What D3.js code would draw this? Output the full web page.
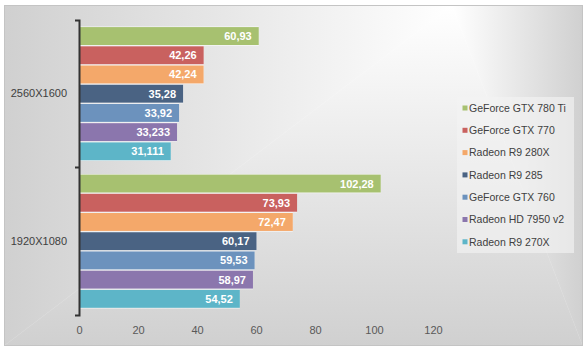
<!DOCTYPE html>
<html>
<head>
<meta charset="utf-8">
<script src="https://cdn.jsdelivr.net/npm/d3@7/dist/d3.min.js"></script>
<style>
  html, body { margin: 0; padding: 0; background: #ffffff; }
  svg { display: block; font-family: "Liberation Sans", Arial, sans-serif; }
</style>
</head>
<body>
<svg id="chart" width="587" height="355"></svg>
<script>
// ---- data ----
const categories = ["2560X1600", "1920X1080"];
const seriesNames = ["GeForce GTX 780 Ti", "GeForce GTX 770", "Radeon R9 280X", "Radeon R9 285",
                     "GeForce GTX 760", "Radeon HD 7950 v2", "Radeon R9 270X"];
const colors = ["#a7c170", "#c9615f", "#f4a86a", "#4a6383", "#6c92bd", "#8b76ad", "#5db5c8"];
const values2560 = [60.93, 42.26, 42.24, 35.28, 33.92, 33.233, 31.111];
const values1920 = [102.28, 73.93, 72.47, 60.17, 59.53, 58.97, 54.52];
const valueLabels2560 = ["60,93", "42,26", "42,24", "35,28", "33,92", "33,233", "31,111"];
const valueLabels1920 = ["102,28", "73,93", "72,47", "60,17", "59,53", "58,97", "54,52"];
const xTicks = [0, 20, 40, 60, 80, 100, 120];

const table = [];
categories.forEach((c, ci) => {
  const vals = ci === 0 ? values2560 : values1920;
  const labs = ci === 0 ? valueLabels2560 : valueLabels1920;
  seriesNames.forEach((s, si) => table.push({cat: c, series: s, value: vals[si], label: labs[si], color: colors[si]}));
});

const svg = d3.select("#chart");
const defs = svg.append("defs");

// ---- chart area background (path gradient from top-right-ish point) ----
const fx0 = 4.5, fy0 = 5.5, fx1 = 582.5, fy1 = 345.5;
const cx = 452, cy = fy0;
const light = "#ffffff", dark = "#d0d0d0";
function lg(id, x1, y1, x2, y2) {
  const g = defs.append("linearGradient").attr("id", id).attr("gradientUnits", "userSpaceOnUse")
    .attr("x1", x1).attr("y1", y1).attr("x2", x2).attr("y2", y2);
  g.append("stop").attr("offset", 0).attr("stop-color", light);
  g.append("stop").attr("offset", 1).attr("stop-color", dark);
}
lg("gLeft", cx, 0, fx0, 0);
lg("gRight", cx, 0, fx1, 0);
lg("gBottom", 0, cy, 0, fy1);
const bg = svg.append("g");
bg.append("polygon").attr("points", [[cx, cy], [fx0, fy0], [fx0, fy1]].join(" ")).attr("fill", "url(#gLeft)");
bg.append("polygon").attr("points", [[cx, cy], [fx1, fy0], [fx1, fy1]].join(" ")).attr("fill", "url(#gRight)");
bg.append("polygon").attr("points", [[cx, cy], [fx0, fy1], [fx1, fy1]].join(" ")).attr("fill", "url(#gBottom)")
  .attr("stroke", "url(#gBottom)").attr("stroke-width", 0.5);
bg.append("rect").attr("x", fx0).attr("y", fy0).attr("width", fx1 - fx0).attr("height", fy1 - fy0)
  .attr("fill", "none").attr("stroke", "#c4c4c4").attr("stroke-width", 1);

// ---- scales ----
const x = d3.scaleLinear().domain([0, 120]).range([79, 433]);
const y = d3.scaleBand().domain(categories).range([20, 315]).padding(0);
const bw = y.bandwidth();
const pad = bw * 0.044;
const yi = d3.scaleBand().domain(seriesNames).range([pad, bw - pad]).padding(0);
const step = yi.step();

// ---- bars ----
const bars = svg.append("g");
bars.selectAll("rect.under").data(table).join("rect").attr("class", "under")
  .attr("x", x(0))
  .attr("y", d => y(d.cat) + yi(d.series))
  .attr("width", d => x(d.value) - x(0))
  .attr("height", step)
  .attr("fill", "#ffffff").attr("fill-opacity", 0.75);
bars.selectAll("rect.bar").data(table).join("rect").attr("class", "bar")
  .attr("x", x(0))
  .attr("y", d => y(d.cat) + yi(d.series) + 0.6)
  .attr("width", d => x(d.value) - x(0))
  .attr("height", step - 1.3)
  .attr("fill", d => d.color);

bars.selectAll("text").data(table).join("text")
  .attr("x", d => x(d.value) - 7)
  .attr("y", d => y(d.cat) + yi(d.series) + step / 2)
  .attr("dy", "0.36em")
  .attr("text-anchor", "end")
  .attr("font-size", 11)
  .attr("font-weight", "bold")
  .attr("fill", "#ffffff")
  .text(d => d.label);

// ---- y axis ----
const yAxis = svg.append("g").attr("transform", `translate(${x(0)},0)`)
  .call(d3.axisLeft(y).tickSize(0).tickSizeOuter(4).tickPadding(12));
yAxis.select(".domain").attr("stroke", "#333333").attr("stroke-width", 2);
yAxis.selectAll("text").attr("font-size", 11).attr("fill", "#404040")
  .attr("font-family", "Liberation Sans, Arial, sans-serif");
yAxis.selectAll(".boundary").data(categories.slice(1)).join("line")
  .attr("class", "boundary")
  .attr("x1", -4).attr("x2", 0)
  .attr("y1", d => y(d)).attr("y2", d => y(d))
  .attr("stroke", "#333333").attr("stroke-width", 2);

// ---- x axis ----
const xAxis = svg.append("g").attr("transform", "translate(0,315)")
  .call(d3.axisBottom(x).tickValues(xTicks).tickSize(0).tickPadding(11).tickFormat(d3.format("d")));
xAxis.select(".domain").remove();
xAxis.selectAll("text").attr("font-size", 11).attr("fill", "#595959")
  .attr("font-family", "Liberation Sans, Arial, sans-serif");

// ---- legend ----
const legend = svg.append("g");
legend.append("rect").attr("x", 457).attr("y", 97).attr("width", 117).attr("height", 156)
  .attr("fill", "#f2f2f2").attr("fill-opacity", 0.65);
const ly = d3.scalePoint().domain(seriesNames).range([108, 241.8]);
const items = legend.selectAll("g.item").data(seriesNames).join("g").attr("class", "item")
  .attr("transform", d => `translate(0,${ly(d)})`);
items.append("rect").attr("x", 462.5).attr("y", -2.5).attr("width", 5).attr("height", 5)
  .attr("fill", (d, i) => colors[i]);
items.append("text").attr("x", 469).attr("y", 0).attr("dy", "0.36em")
  .attr("font-size", 10.5).attr("fill", "#404040").text(d => d);
</script>
</body>
</html>
